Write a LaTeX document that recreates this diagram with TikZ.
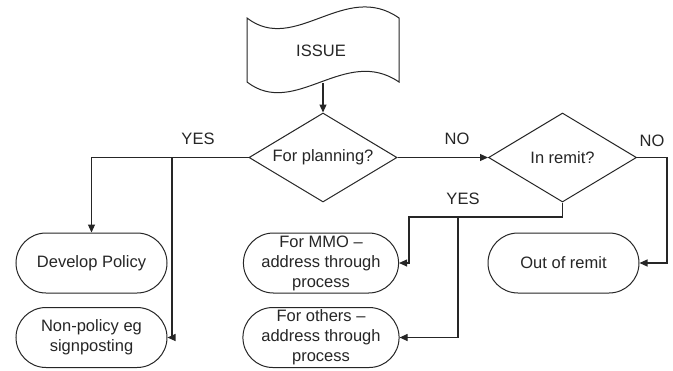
\documentclass[tikz,border=0pt]{standalone}
\usepackage{fontspec}
\setmainfont{Liberation Sans}
\usetikzlibrary{shapes.geometric,shapes.misc,arrows.meta}
\begin{document}
\begin{tikzpicture}[x=1bp,y=-1bp,
  line/.style={draw=black!85, line width=1.1bp},
  arr/.style={line, -{Triangle[length=8bp,width=7bp]}},
  txt/.style={font=\fontsize{16.5bp}{20bp}\selectfont, text=black!85},
  decision/.style={txt, diamond, draw=black!85, line width=1bp, minimum width=148bp, minimum height=89bp, inner sep=0pt, aspect=1.66},
  term/.style={txt, rounded rectangle, draw=black!85, line width=1bp, minimum width=151bp, minimum height=60bp, inner sep=0pt, align=center}]
\useasboundingbox[fill=white] (0,0) rectangle (673,370);
% ISSUE tape
\draw[line, line width=1bp] (247,18) .. controls (295,55) and (345,-20) .. (399,18) -- (399,82)
  .. controls (345,45) and (295,119) .. (247,82) -- cycle;
\node[txt] (issue) at (321,51) {ISSUE};
\coordinate (issuebot) at (323,83);
% decisions
\node[decision] (d1) at (323,157.5) {For planning?};
\node[decision] (d2) at (562.5,157.5) {In remit?};
% terminals
\node[term] (dev) at (91.5,263) {Develop Policy};
\node[term] (nonp) at (91.5,337.5) {Non-policy eg\\signposting};
\node[term] (mmo) at (321,263) {For MMO --\\address through\\process};
\node[term] (others) at (321,337.5) {For others --\\address through\\process};
\node[term] (out) at (563.5,263) {Out of remit};
% connectors
\draw[arr] (issuebot) -- (d1.north);
\draw[arr] (d1.east) -- (d2.west);
\draw[arr] (d2.east) -- ++(30,0) |- (out.east);
\coordinate (j2) at (562.5,217);
\coordinate (k2) at (409,217);
\draw[arr] (d2.south) -- (j2) -- (k2) |- (mmo.east);
\coordinate (b2) at (458,217);
\draw[arr] (b2) |- (others.east);
\draw[arr] (d1.west) -| (dev.north);
\coordinate (b1) at (172,157.5);
\draw[arr] (b1) |- (nonp.east);
% labels
\node[txt] (lyes1) at (198,139) {YES};
\node[txt] (lno1) at (457,139) {NO};
\node[txt] (lyes2) at (463,199) {YES};
\node[txt] (lno2) at (652,141) {NO};
\end{tikzpicture}
\end{document}
